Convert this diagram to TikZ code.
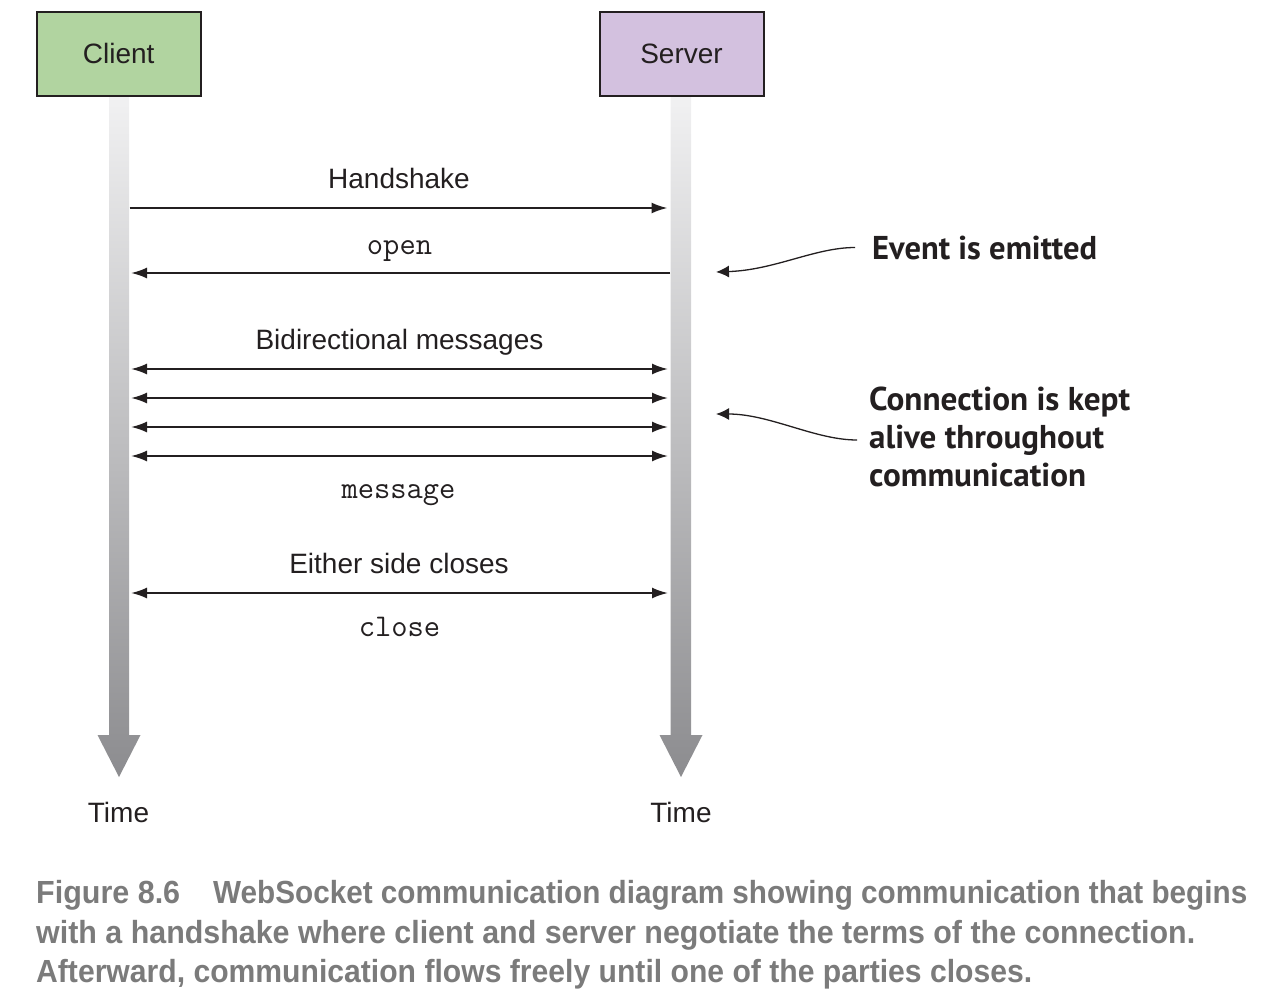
\documentclass[tikz,border=0pt]{standalone}
\usepackage{fontspec}
\setmainfont{Liberation Sans}
\newfontfamily\notefont{PT Sans}
\usetikzlibrary{arrows.meta}
\definecolor{boxgreen}{HTML}{B1D4A0}
\definecolor{boxlav}{HTML}{D3C1DF}
\definecolor{ink}{HTML}{231F20}
\definecolor{captiongray}{HTML}{7B7B7B}
\definecolor{bartop}{HTML}{F1F1F2}
\definecolor{barbottom}{HTML}{8C8C8F}
\newcommand\hfitw[2]{\resizebox{#1}{\height}{#2}}
\begin{document}
\begin{tikzpicture}[x=1pt,y=-1pt,
  actor/.style={draw=ink, line width=2pt, minimum width=164pt, minimum height=84pt, inner sep=0pt, font=\fontsize{28}{32}\selectfont, text=ink},
  lbl/.style={font=\fontsize{28}{32}\selectfont, text=ink, anchor=base, inner sep=0pt},
  codelbl/.style={font=\ttfamily\fontsize{31.6}{34}\selectfont, text=ink, anchor=base, inner sep=0pt},
  msg/.style={draw=ink, line width=2pt, -{Latex[length=16pt,width=11pt]}},
  bimsg/.style={draw=ink, line width=2pt, {Latex[length=16pt,width=11pt]}-{Latex[length=16pt,width=11pt]}},
  notetext/.style={font=\notefont\bfseries\fontsize{33}{37}\selectfont, text=ink, anchor=base west, inner sep=0pt},
  pointer/.style={draw=ink, line width=1.3pt, -{Latex[length=13pt,width=12pt]}},
  captext/.style={font=\bfseries\fontsize{32}{36}\selectfont, text=captiongray, anchor=base west, inner sep=0pt},
  timeline/.style={top color=bartop, bottom color=barbottom, draw=none}
]
\useasboundingbox (0,0) rectangle (1266,993);

% timelines
\path[timeline] (109,96) -- (129,96) -- (129,735) -- (140.5,735) -- (119,777) -- (97.5,735) -- (109,735) -- cycle;
\path[timeline] (670.5,96) -- (691,96) -- (691,735) -- (702.5,735) -- (681,777) -- (659.5,735) -- (670.5,735) -- cycle;

% actors
\node[actor, fill=boxgreen] (client) at (118.7,53.5) {Client};
\node[actor, fill=boxlav] (server) at (681.5,53.5) {Server};

\node[lbl] (ctime) at (118.5,822.7) {Time};
\node[lbl] (stime) at (681,822.7) {Time};

% message endpoints
\coordinate (hsA) at (129.5,208);
\coordinate (hsB) at (667.5,208);
\coordinate (opA) at (670,273);
\coordinate (opB) at (131,273);
\coordinate (b1A) at (131,369);
\coordinate (b1B) at (668,369);
\coordinate (b2A) at (131,398);
\coordinate (b2B) at (668,398);
\coordinate (b3A) at (131,427);
\coordinate (b3B) at (668,427);
\coordinate (b4A) at (131,456);
\coordinate (b4B) at (668,456);
\coordinate (clA) at (131,593);
\coordinate (clB) at (668,593);

\draw[msg] (hsA) -- (hsB);
\draw[msg] (opA) -- (opB);
\draw[bimsg] (b1A) -- (b1B);
\draw[bimsg] (b2A) -- (b2B);
\draw[bimsg] (b3A) -- (b3B);
\draw[bimsg] (b4A) -- (b4B);
\draw[bimsg] (clA) -- (clB);

% message labels
\node[lbl] (hslbl) at (399,188.7) {Handshake};
\node[codelbl] (oplbl) at (399.5,254) {open};
\node[lbl] (bilbl) at (399.5,349.2) {Bidirectional messages};
\node[codelbl] (mslbl) at (398.5,498.5) {message};
\node[lbl] (eilbl) at (399,573.7) {Either side closes};
\node[codelbl] (cllbl) at (399.5,636.2) {close};

% notes
\node[notetext] (evnote) at (872,259.3) {\hfitw{225pt}{Event is emitted}};
\node[notetext] (cn1) at (869,410.5) {\hfitw{261pt}{Connection is kept}};
\node[notetext] (cn2) at (869,448.5) {\hfitw{235pt}{alive throughout}};
\node[notetext] (cn3) at (869,486) {\hfitw{217pt}{communication}};

\coordinate (evS) at (855,247.5);
\coordinate (evT) at (716,272);
\coordinate (cnS) at (857,440);
\coordinate (cnT) at (716,414);
\draw[pointer] (evS) .. controls (815,247.5) and (775,270) .. (evT);
\draw[pointer] (cnS) .. controls (815,440) and (770,414) .. (cnT);

% caption
\node[captext] (fignum) at (36,903.5) {\hfitw{144pt}{Figure 8.6}};
\node[captext] (cap1) at (213,903.5) {\hfitw{1034pt}{WebSocket communication diagram showing communication that begins}};
\node[captext] (cap2) at (36,943.5) {\hfitw{1159pt}{with a handshake where client and server negotiate the terms of the connection.}};
\node[captext] (cap3) at (36,982.5) {\hfitw{996pt}{Afterward, communication flows freely until one of the parties closes.}};
\end{tikzpicture}
\end{document}
